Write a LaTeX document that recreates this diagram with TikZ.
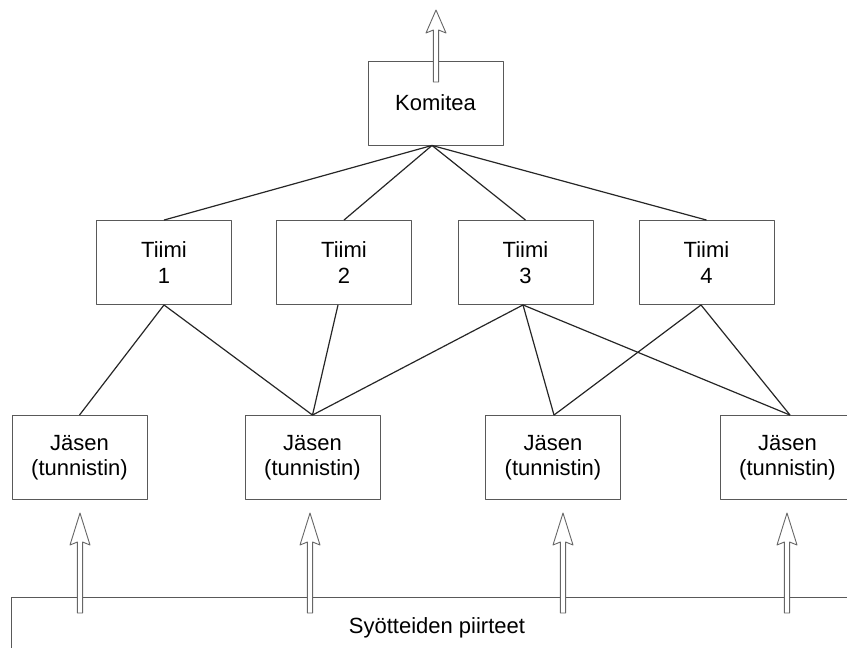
\documentclass[tikz,border=0pt]{standalone}
\usepackage{fontspec}
\setmainfont{Liberation Sans}
\usepackage{tikz}
\usetikzlibrary{calc}

% hollow arrow with a double shaft: [head length]{base}{tip}
\newcommand\liftarrow[3][32]{%
\draw[lift arrow] ($(#2)+(-2.6,0)$) -- ($(#3)+(-2.6,#1-3)$) -- ($(#3)+(-10,#1)$)
-- (#3) -- ($(#3)+(10,#1)$) -- ($(#3)+(2.6,#1-3)$) -- ($(#2)+(2.6,0)$) -- cycle;}

\begin{document}
\begin{tikzpicture}
[x=1pt,y=-1pt,line join=round,
% Styles
box/.style={draw=black!65,line width=0.9pt,minimum width=135pt,minimum height=84pt,
inner sep=2pt,align=center,font=\fontsize{22}{25.5}\selectfont},
link/.style={draw=black!85,line width=1.2pt},
lift arrow/.style={draw=black!60,fill=white,line width=0.9pt,line cap=round}]
\clip (0,0) rectangle (847,648);
% The graphic
\node[box] (komitea) at (435.5,103) {Komitea};
\node[box] (t1) at (164,262.5) {Tiimi\\1};
\node[box] (t2) at (344,262.5) {Tiimi\\2};
\node[box] (t3) at (525.5,262.5) {Tiimi\\3};
\node[box] (t4) at (706.5,262.5) {Tiimi\\4};
\node[box] (j1) at (79.5,457.5) {Jäsen\\(tunnistin)};
\node[box] (j2) at (312.5,457.5) {Jäsen\\(tunnistin)};
\node[box] (j3) at (553,457.5) {Jäsen\\(tunnistin)};
\node[box] (j4) at (787.5,457.5) {Jäsen\\(tunnistin)};
% input features
\draw[draw=black!65,line width=0.9pt] (11,660) -- (11,597) -- (860,597);
\node[font=\fontsize{22}{25.5}\selectfont] (syote) at (437,628) {Syötteiden piirteet};
% committee to teams
\foreach \t in {t1,t2,t3,t4}
\draw[link] ([xshift=-3.5pt]komitea.south) -- (\t.north);
% teams to members
\draw[link] (t1.south) -- (j1.north);
\draw[link] (t1.south) -- (j2.north);
\draw[link] ([xshift=-6pt]t2.south) -- (j2.north);
\draw[link] ([xshift=-2.5pt]t3.south) -- (j2.north);
\draw[link] ([xshift=-2.5pt]t3.south) -- ([xshift=1pt]j3.north);
\draw[link] ([xshift=-2.5pt]t3.south) -- ([xshift=2.5pt]j4.north);
\draw[link] ([xshift=-5.5pt]t4.south) -- ([xshift=1pt]j3.north);
\draw[link] ([xshift=-5.5pt]t4.south) -- ([xshift=2.5pt]j4.north);
% arrows
\coordinate (out base) at (436,82);
\coordinate (out) at (436,10);
\liftarrow[23]{out base}{out}
\foreach \x [count=\i] in {80,310,563,787}{
\coordinate (in base \i) at (\x,613);
\coordinate (in \i) at (\x,513);
\liftarrow{in base \i}{in \i}}
\end{tikzpicture}
\end{document}
